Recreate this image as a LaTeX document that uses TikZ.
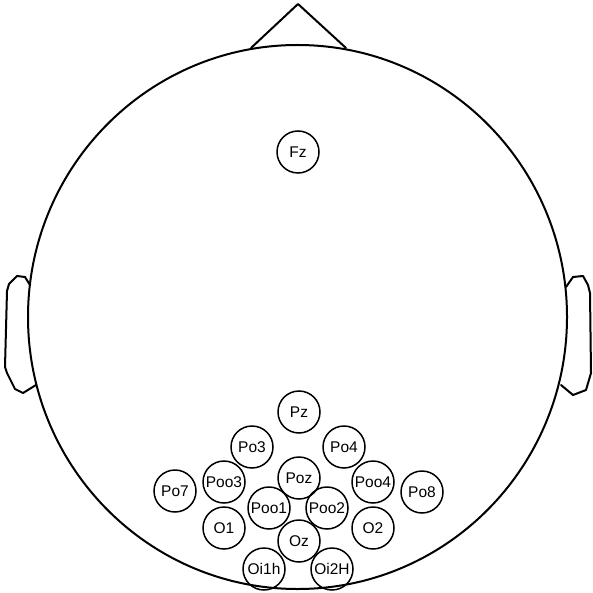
\documentclass[tikz,border=0pt]{standalone}
\usepackage{fontspec}
\setmainfont{Liberation Sans}
\begin{document}
\begin{tikzpicture}[x=1pt,y=-1pt,
  electrode/.style={circle,draw,line width=1.5pt,minimum size=42pt,inner sep=0pt,font=\fontsize{15.5}{16}\selectfont},
  headline/.style={line width=2pt,line join=round,line cap=round}]
\useasboundingbox (0,0) rectangle (593,593);
% head
\draw[headline] (297.5,317) ellipse [x radius=269.5, y radius=272];
% nose
\draw[headline] (251,48) -- (298,4) -- (346,48);
% ears
\draw[headline] (30,285) -- (25,277) -- (17,276) -- (9,284) -- (7,291) -- (5,367) -- (7,373) -- (15,389) -- (23,393) -- (36,385);
\draw[headline] (566,287) -- (573,277) -- (583,276) -- (588,285) -- (590,293) -- (591,373) -- (586,390) -- (573,395) -- (561,385);
% electrodes
\node[electrode] (Fz) at (298,152) {Fz};
\node[electrode] (Pz) at (299,412) {Pz};
\node[electrode] (Po3) at (252,447) {Po3};
\node[electrode] (Po4) at (344,447) {Po4};
\node[electrode] (Poz) at (299,478) {Poz};
\node[electrode] (Po7) at (175,491) {Po7};
\node[electrode] (Poo3) at (224,482) {Poo3};
\node[electrode] (Poo4) at (373,482) {Poo4};
\node[electrode] (Po8) at (422,492) {Po8};
\node[electrode] (Poo1) at (269,508) {Poo1};
\node[electrode] (Poo2) at (327,508) {Poo2};
\node[electrode] (O1) at (224,528) {O1};
\node[electrode] (O2) at (373,528) {O2};
\node[electrode] (Oz) at (299,541) {Oz};
\node[electrode] (Oi1h) at (264,569) {Oi1h};
\node[electrode] (Oi2H) at (332,569) {Oi2H};
\end{tikzpicture}
\end{document}
